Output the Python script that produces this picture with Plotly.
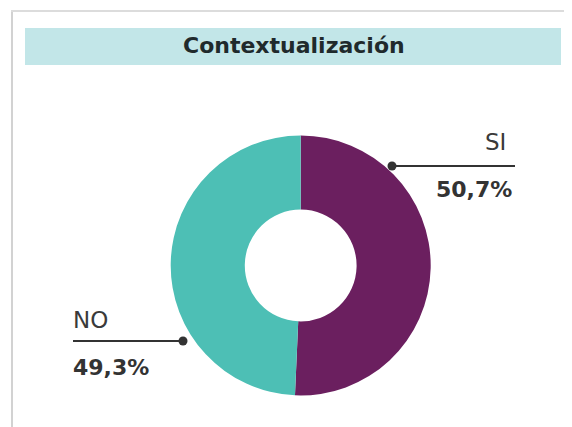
import plotly.graph_objects as go

# Data
labels = ["SI", "NO"]
values = [50.7, 49.3]
value_text = ["50,7%", "49,3%"]
colors = ["#6b1f5f", "#4dbfb5"]
title_text = "Contextualización"

W, H = 572, 427
OFF = 8  # page body margin compensation

def fx(px):
    return (px - OFF) / W

def fy(py):
    return 1 - (py - OFF) / H

cx, cy, r = 300.7, 265.5, 130

fig = go.Figure(go.Pie(
    labels=labels,
    values=values,
    marker=dict(colors=colors, line=dict(width=0)),
    hole=0.43,
    sort=False,
    direction="clockwise",
    rotation=0,
    textinfo="none",
    hoverinfo="label+percent",
    showlegend=False,
    domain=dict(x=[fx(cx - r), fx(cx + r)], y=[fy(cy + r), fy(cy - r)]),
))

shapes = []
# card borders
shapes.append(dict(type="line", xref="paper", yref="paper", x0=fx(12), x1=fx(12), y0=fy(10), y1=fy(440),
                   line=dict(color="#d2d2d2", width=2)))
shapes.append(dict(type="line", xref="paper", yref="paper", x0=fx(11), x1=fx(590), y0=fy(11), y1=fy(11),
                   line=dict(color="#dcdcdc", width=2)))
# title band
shapes.append(dict(type="rect", xref="paper", yref="paper", x0=fx(25), x1=fx(561), y0=fy(65), y1=fy(28),
                   fillcolor="#c2e6e8", line=dict(width=0), layer="below"))
# leader lines
line_col = "#333333"
shapes.append(dict(type="line", xref="paper", yref="paper", x0=fx(392), x1=fx(515), y0=fy(166), y1=fy(166),
                   line=dict(color=line_col, width=2)))
shapes.append(dict(type="line", xref="paper", yref="paper", x0=fx(73), x1=fx(183), y0=fy(341), y1=fy(341),
                   line=dict(color=line_col, width=2)))
for (dx, dy) in [(392, 166), (183, 341)]:
    rr = 4.5
    shapes.append(dict(type="circle", xref="paper", yref="paper", x0=fx(dx - rr), x1=fx(dx + rr),
                       y0=fy(dy + rr), y1=fy(dy - rr), fillcolor=line_col, line=dict(width=0)))

font_family = "DejaVu Sans"
annotations = [
    dict(text="<b>" + title_text + "</b>", x=fx(294), y=fy(45.5), xref="paper", yref="paper",
         xanchor="center", yanchor="middle", showarrow=False,
         font=dict(family=font_family, size=22, color="#1f2a2c")),
    dict(text=labels[0], x=fx(508), y=fy(142), xref="paper", yref="paper",
         xanchor="right", yanchor="middle", showarrow=False,
         font=dict(family=font_family, size=23, color="#3a3a3a")),
    dict(text="<b>" + value_text[0] + "</b>", x=fx(514), y=fy(189.5), xref="paper", yref="paper",
         xanchor="right", yanchor="middle", showarrow=False,
         font=dict(family=font_family, size=22, color="#333333")),
    dict(text=labels[1], x=fx(71), y=fy(320), xref="paper", yref="paper",
         xanchor="left", yanchor="middle", showarrow=False,
         font=dict(family=font_family, size=23, color="#3a3a3a")),
    dict(text="<b>" + value_text[1] + "</b>", x=fx(71), y=fy(367), xref="paper", yref="paper",
         xanchor="left", yanchor="middle", showarrow=False,
         font=dict(family=font_family, size=22, color="#333333")),
]

fig.update_layout(
    width=W, height=H,
    margin=dict(l=0, r=0, t=0, b=0),
    paper_bgcolor="white", plot_bgcolor="white",
    shapes=shapes, annotations=annotations,
)

fig.write_html("out.html", config={"displayModeBar": False})
